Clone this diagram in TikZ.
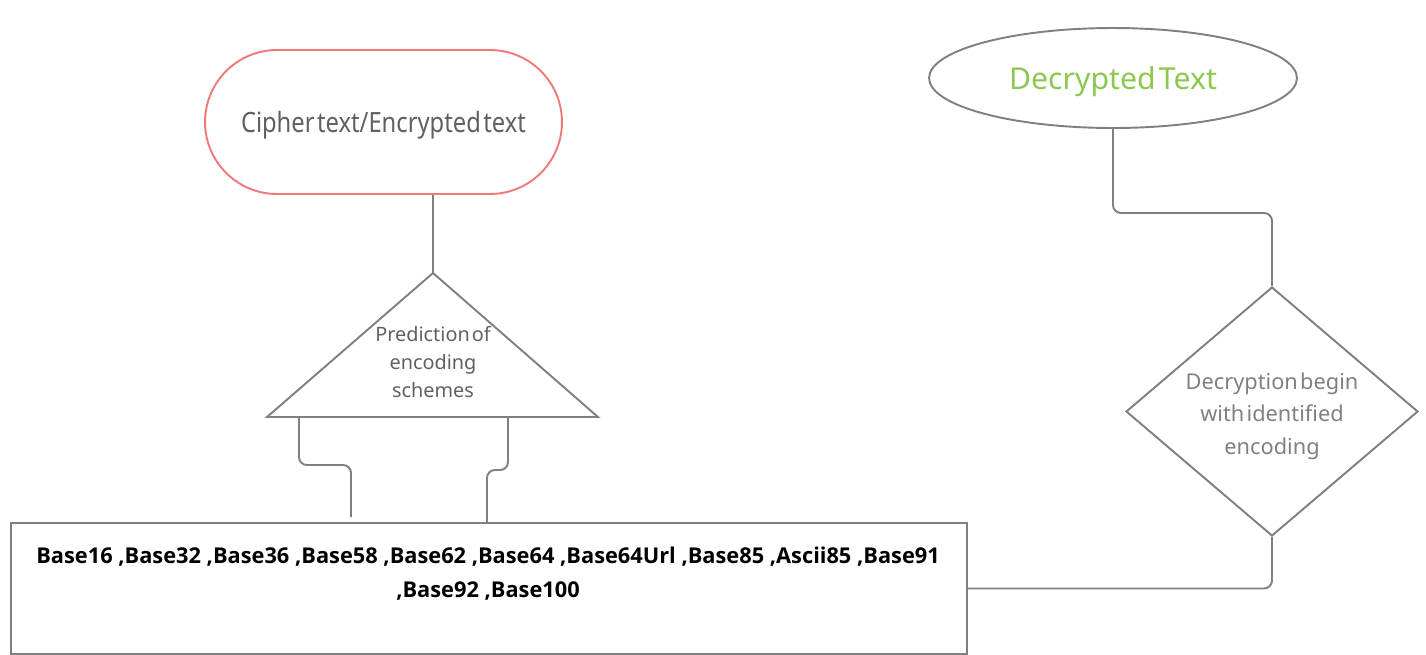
\documentclass[tikz,border=0pt]{standalone}
\usepackage{fontspec}
\setmainfont{Noto Sans}
\newfontfamily\narrowfont[FakeStretch=0.85,WordSpace=0.4]{Noto Sans}
\newfontfamily\tightfont[WordSpace=0.4]{Noto Sans}
\newfontfamily\listfont{Open Sans}
\usetikzlibrary{shapes.geometric,shapes.misc}
\definecolor{linegray}{RGB}{128,128,128}
\definecolor{textgray}{RGB}{96,96,96}
\definecolor{cipherred}{RGB}{240,122,122}
\definecolor{plaingreen}{RGB}{140,200,80}

\begin{document}
\begin{tikzpicture}[x=0.02cm,y=-0.02cm]
    \tikzset{link/.style={linegray, line width=1.1pt, rounded corners=4.5pt},
             shapeline/.style={draw=linegray, line width=1.1pt},
             label/.style={text=textgray, align=center, inner sep=0pt}}
    \useasboundingbox (0,0) rectangle (1426,654);
    \node[rounded rectangle, draw=cipherred, line width=1.1pt,
          minimum width=7.14cm, minimum height=2.88cm, label, text depth=0pt,
          font=\narrowfont\fontsize{15.9}{19}\selectfont] (cipher) at (383.5,122) {Cipher text/Encrypted text};
    \draw[shapeline] (433,273) coordinate (apex) -- (598,417) -- (267,417) -- cycle;
    \node[label, font=\tightfont\fontsize{11.3}{15.9}\selectfont] (predict) at (433,362) {Prediction of\\encoding\\schemes};
    \coordinate (tapL) at (299,417);
    \coordinate (tapR) at (508,417);
    \node[shapeline, anchor=north west, minimum width=19.12cm, minimum height=2.62cm] (encbox) at (10,522) {};
    \node[font=\listfont\bfseries\fontsize{12.4}{19.3}\selectfont, align=center, inner sep=0pt] (enclist) at (488,574)
        {Base16 ,Base32 ,Base36 ,Base58 ,Base62 ,Base64 ,Base64Url ,Base85 ,Ascii85 ,Base91\\,Base92 ,Base100};
    \coordinate (inL) at (351,517);
    \coordinate (inR) at (487,522);
    \node[ellipse, shapeline, minimum width=7.36cm, minimum height=2cm, text=plaingreen, text depth=0pt,
          font=\tightfont\fontsize{17.2}{20}\selectfont] (plain) at (1113,78) {Decrypted Text};
    \node[diamond, shapeline, minimum width=5.84cm, minimum height=4.98cm, inner sep=0pt] (decrypt) at (1272,411.5) {};
    \node[label, text=linegray, font=\tightfont\fontsize{12.4}{18.4}\selectfont] (decrypttext) at (1272,416)
        {Decryption begin\\with identified\\encoding};
    \coordinate (jog) at (1272,213);
    \draw[link] (cipher.south -| apex) -- (apex);
    \draw[link] (tapL) -- (299,465) -- (351,465) -- (inL);
    \draw[link] (tapR) -- (508,470) -- (487,470) -- (inR);
    \draw[link] (plain.south) |- (jog) -- (decrypt.north);
    \draw[link] (decrypt.south) |- (encbox.east);
\end{tikzpicture}
\end{document}
